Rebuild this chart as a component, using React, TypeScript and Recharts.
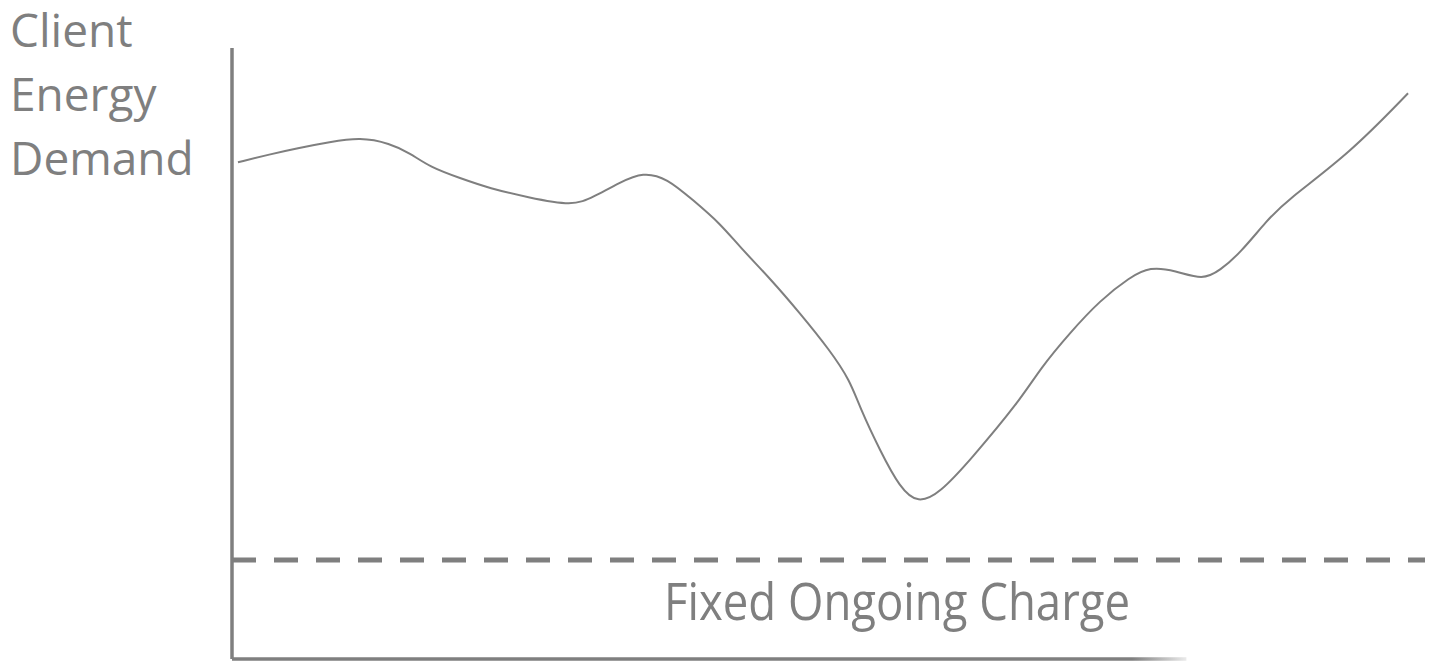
import React from 'react';
import { LineChart, Line, XAxis, YAxis, ReferenceLine } from 'recharts';

// Time index (0..100 across the period) and client energy demand (0..100 scale)
const timeIndex = [
  0.5, 3.19, 5.45, 8.21, 10.73, 13.24, 14.92, 16.6, 19.11, 21.63, 24.73, 28.58,
  30.26, 32.52, 34.45, 36.46, 38.64, 40.91, 42.58, 45.1, 47.61, 50.13, 51.8,
  52.64, 54.32, 55.99, 57.5, 59.35, 61.86, 66.05, 67.73, 70.24, 72.76, 75.27,
  76.95, 79.05, 81.39, 82.82, 84.49, 86.76, 88.43, 93.71, 98.58,
];
const demand = [
  81.3, 82.6, 83.6, 84.6, 85.4, 84.4, 82.8, 80.5, 78.7, 77.0, 75.6, 74.1,
  75.6, 78.0, 79.7, 78.7, 75.1, 71.3, 67.4, 62.3, 56.6, 50.5, 45.6,
  41.1, 34.1, 28.0, 25.4, 27.2, 32.5, 42.3, 47.5, 53.4, 58.7, 62.5,
  64.2, 63.6, 62.0, 63.6, 66.4, 71.8, 75.1, 82.8, 92.6,
];
const fixedCharge = 16.2;
const xAxisEnd = 80;
const yLabelLines = ['Client', 'Energy', 'Demand'];
const fixedLabel = 'Fixed Ongoing Charge';

const data = timeIndex.map((t, i) => ({ t, demand: demand[i] }));

const GREY = '#7f7f7f';
const FONT = '"Open Sans", sans-serif';

export default function App() {
  return (
    <div style={{ position: 'absolute', left: 0, top: 0, width: 1433, height: 661, background: '#fff' }}>
      <svg
        width={1433}
        height={661}
        style={{ position: 'absolute', left: 0, top: 0, pointerEvents: 'none' }}
      >
        <defs>
          <linearGradient id="axisFade" gradientUnits="userSpaceOnUse" x1="0" y1="0" x2="1433" y2="0">
            <stop offset="0.79" stopColor={GREY} stopOpacity={1} />
            <stop offset="0.835" stopColor={GREY} stopOpacity={0} />
          </linearGradient>
        </defs>
        <text fontFamily={FONT} fontSize={46} fill={GREY}>
          {yLabelLines.map((line, i) => (
            <tspan key={line} x={10} y={47 + i * 64}>
              {line}
            </tspan>
          ))}
        </text>
        <text
          x={664}
          y={620}
          fontFamily={FONT}
          fontSize={51}
          fill={GREY}
          textLength={466}
          lengthAdjust="spacingAndGlyphs"
        >
          {fixedLabel}
        </text>
      </svg>
      <div style={{ position: 'absolute', left: 0, top: 0 }}>
        <LineChart
          width={1433}
          height={661}
          data={data}
          margin={{ top: 48, right: 8, bottom: 2, left: 232 }}
        >
          <XAxis type="number" dataKey="t" domain={[0, 100]} allowDataOverflow hide />
          <YAxis type="number" domain={[0, 100]} allowDataOverflow hide />
          <ReferenceLine
            x={0}
            stroke={GREY}
            strokeWidth={3.5}
            ifOverflow="visible"
          />
          <ReferenceLine
            segment={[
              { x: 0, y: 0 },
              { x: xAxisEnd, y: 0 },
            ]}
            stroke="url(#axisFade)"
            strokeWidth={3.5}
            ifOverflow="visible"
          />
          <ReferenceLine
            y={fixedCharge}
            stroke={GREY}
            strokeWidth={5}
            strokeDasharray="24 18"
          />
          <Line
            type="basis"
            dataKey="demand"
            stroke={GREY}
            strokeWidth={2}
            dot={false}
            activeDot={false}
            isAnimationActive={false}
          />
        </LineChart>
      </div>
    </div>
  );
}
